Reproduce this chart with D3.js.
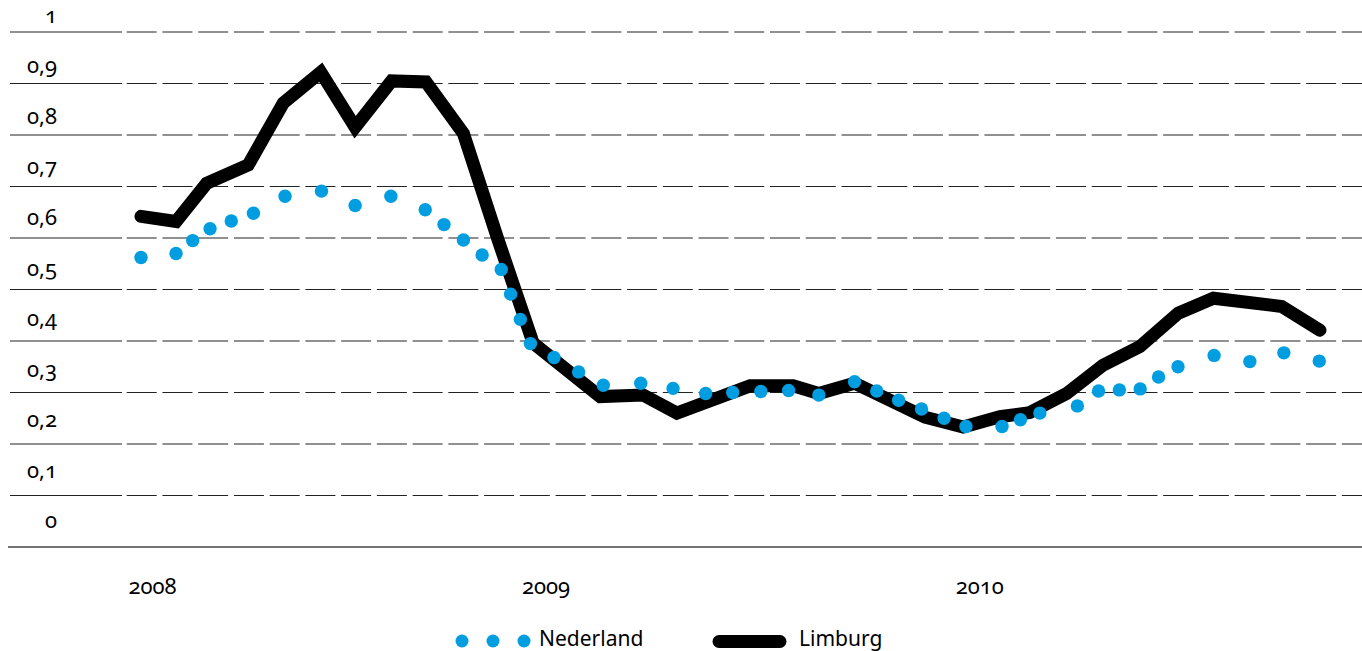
<!DOCTYPE html>
<html>
<head>
<meta charset="utf-8">
<script src="https://cdn.jsdelivr.net/npm/d3@7"></script>
<style>
body { margin: 0; background: #fff; }
svg text {
	font-family: "Noto Sans", "Open Sans", sans-serif;
	font-feature-settings: "onum" 1;
	font-variant-numeric: oldstyle-nums;
	fill: #000;
}
</style>
</head>
<body>
<div class="canvas"></div>
<script>
// x is in months from the first observation (jan 2008)
var nl_t = [0, 1.01, 1.49, 1.99, 2.60, 3.24, 4.15, 5.20, 6.17, 7.20, 8.19, 8.73, 9.29, 9.83, 10.38,
	10.65, 10.93, 11.22, 11.90, 12.61, 13.32, 14.40, 15.33, 16.27, 17.05, 17.86, 18.66, 19.53,
	20.56, 21.20, 21.83, 22.49, 23.14, 23.77, 24.81, 25.34, 25.90, 26.98, 27.59, 28.19, 28.79,
	29.32, 29.88, 30.92, 31.95, 32.93, 33.95];
var nl_v = [0.562, 0.570, 0.595, 0.618, 0.633, 0.648, 0.681, 0.691, 0.663, 0.681, 0.655, 0.626,
	0.596, 0.567, 0.539, 0.491, 0.442, 0.395, 0.368, 0.340, 0.314, 0.318, 0.308, 0.298, 0.300,
	0.302, 0.304, 0.295, 0.321, 0.303, 0.285, 0.268, 0.250, 0.234, 0.234, 0.247, 0.260, 0.274,
	0.303, 0.305, 0.307, 0.330, 0.350, 0.372, 0.360, 0.377, 0.361];
var lb_t = [0, 1.01, 1.89, 3.09, 4.10, 5.18, 6.17, 7.22, 8.21, 9.29, 10.29, 11.30, 13.23, 14.47,
	15.44, 17.55, 18.79, 19.53, 20.56, 22.59, 23.69, 24.75, 25.61, 26.67, 27.72, 28.78, 29.89,
	30.90, 32.87, 33.97];
var lb_v = [0.642, 0.632, 0.706, 0.742, 0.862, 0.922, 0.815, 0.905, 0.903, 0.803, 0.596, 0.396,
	0.292, 0.295, 0.260, 0.313, 0.313, 0.298, 0.318, 0.252, 0.233, 0.253, 0.261, 0.298, 0.353,
	0.389, 0.454, 0.483, 0.467, 0.421];
var y_ticks = [0, 0.1, 0.2, 0.3, 0.4, 0.5, 0.6, 0.7, 0.8, 0.9, 1];
var y_tick_labels = ["0", "0,1", "0,2", "0,3", "0,4", "0,5", "0,6", "0,7", "0,8", "0,9", "1"];
var x_ticks = [0.33, 11.67, 24.17];
var x_tick_labels = ["2008", "2009", "2010"];
var series_names = ["Nederland", "Limburg"];

chart_figure();

function chart_figure() {
	var fig_width = 1362;
	var fig_height = 651;
	var blue = "#009ee0";
	var svg = d3.select("body div.canvas").append("svg")
		.attr("width", fig_width)
		.attr("height", fig_height);

	var x = d3.scaleLinear().domain([0, 34]).range([141, 1321]);
	var y = d3.scaleLinear().domain([0, 1]).range([547, 32]);
	// the labels sit in their own slightly tighter band
	var y_lab = d3.scaleLinear().domain([0, 1]).range([528.3, 22.7]);

	var nl = nl_t.map(function(t, i) { return {t: t, v: nl_v[i]}; });
	var lb = lb_t.map(function(t, i) { return {t: t, v: lb_v[i]}; });

	// grid: solid piece under the label, then dashes
	y_ticks.forEach(function(v, i) {
		if (v == 0) {
			svg.append("line")
				.attr("x1", 8).attr("x2", fig_width)
				.attr("y1", y(v)).attr("y2", y(v))
				.attr("stroke", "#444")
				.attr("stroke-width", 1.3);
		} else {
			svg.append("line")
				.attr("x1", 10).attr("x2", 122)
				.attr("y1", y(v)).attr("y2", y(v))
				.attr("stroke", "#222")
				.attr("stroke-width", 1.2);
			svg.append("line")
				.attr("x1", 126.7).attr("x2", fig_width)
				.attr("y1", y(v)).attr("y2", y(v))
				.attr("stroke", "#222")
				.attr("stroke-width", 1.2)
				.attr("stroke-dasharray", "30,5.74");
		}
		svg.append("text")
			.attr("x", 57)
			.attr("y", y_lab(v))
			.style("text-anchor", "end")
			.style("font-size", "22px")
			.text(y_tick_labels[i]);
	});

	x_ticks.forEach(function(t, i) {
		svg.append("text")
			.attr("x", x(t))
			.attr("y", 594)
			.style("text-anchor", "middle")
			.style("font-size", "22px")
			.text(x_tick_labels[i]);
	});

	var line = d3.line()
		.x(function(d) { return x(d.t); })
		.y(function(d) { return y(d.v); });

	svg.append("path")
		.datum(lb)
		.attr("d", line)
		.attr("fill", "none")
		.attr("stroke", "#000")
		.attr("stroke-width", 13)
		.attr("stroke-linecap", "round")
		.attr("stroke-linejoin", "miter");

	svg.selectAll("circle.nl")
		.data(nl)
		.enter()
		.append("circle")
		.attr("class", "nl")
		.attr("cx", function(d) { return x(d.t); })
		.attr("cy", function(d) { return y(d.v); })
		.attr("r", 6.7)
		.attr("fill", blue);

	// legend
	[462, 493, 524].forEach(function(cx) {
		svg.append("circle")
			.attr("cx", cx).attr("cy", 641)
			.attr("r", 6.5)
			.attr("fill", blue);
	});
	svg.append("text")
		.attr("x", 539).attr("y", 646)
		.style("font-size", "21px")
		.text(series_names[0]);
	svg.append("line")
		.attr("x1", 719).attr("x2", 780)
		.attr("y1", 641.5).attr("y2", 641.5)
		.attr("stroke", "#000")
		.attr("stroke-width", 13)
		.attr("stroke-linecap", "round");
	svg.append("text")
		.attr("x", 799).attr("y", 646)
		.style("font-size", "21px")
		.text(series_names[1]);
}
</script>
</body>
</html>
